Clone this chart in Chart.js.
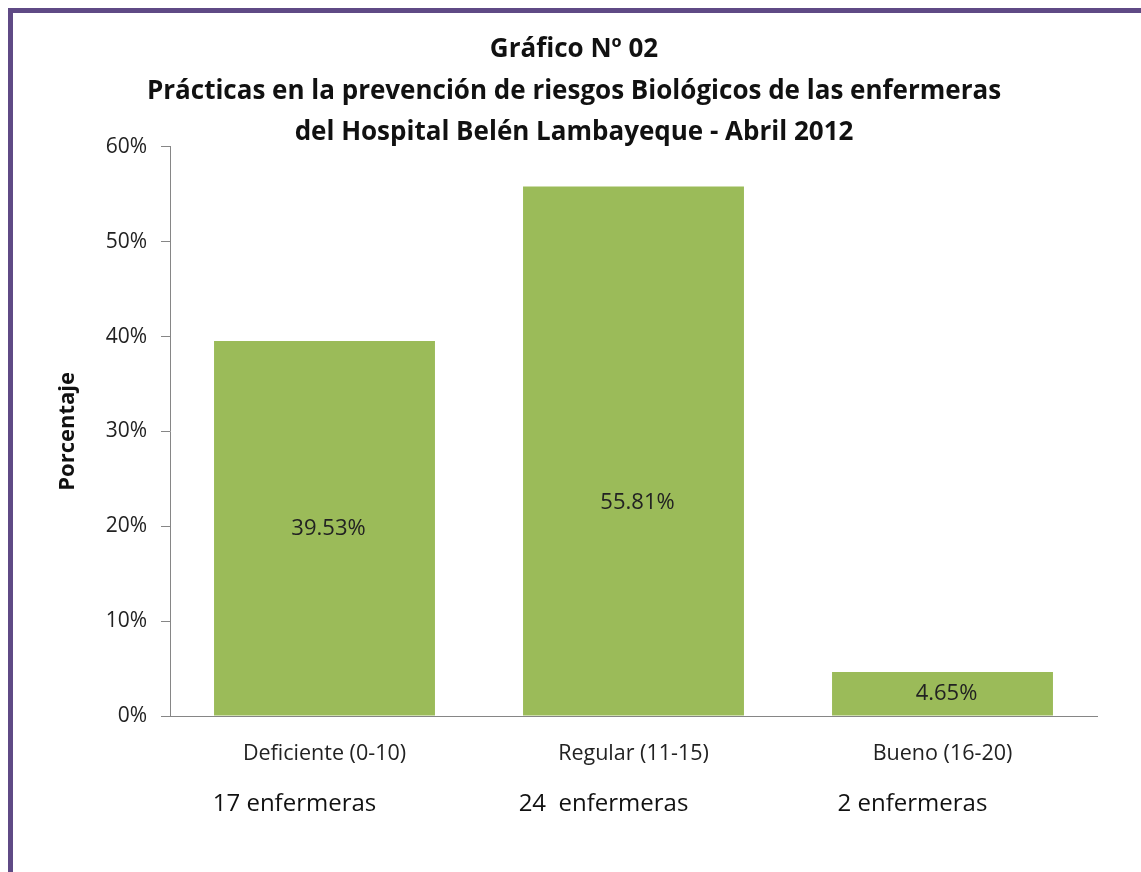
<!DOCTYPE html>
<html>
<head>
<meta charset="utf-8">
<script src="https://cdn.jsdelivr.net/npm/chart.js@4.4.1/dist/chart.umd.min.js"></script>
<style>
  html, body { margin: 0; padding: 0; background: #fff; overflow: hidden; }
  #marco {
    position: absolute; left: 8px; top: 8px; width: 1300px; height: 1000px;
    border-left: 5px solid #5f4a85; border-top: 5px solid #5f4a85;
  }
  #wrap { position: absolute; left: 0; top: 0; width: 1141px; height: 872px; }
</style>
</head>
<body>
<div id="marco"></div>
<div id="wrap"><canvas id="grafico"></canvas></div>
<script>
// Datos del gráfico
const categorias = ['Deficiente (0-10)', 'Regular (11-15)', 'Bueno (16-20)'];
const porcentajes = [39.53, 55.81, 4.65];
const enfermeras = ['17 enfermeras', '24  enfermeras', '2 enfermeras'];
const ticksY = [0, 10, 20, 30, 40, 50, 60];

const fuente = '"Open Sans", Lato, sans-serif';

// Etiquetas de porcentaje dentro de cada barra
const etiquetasBarras = {
    id: 'etiquetasBarras',
    afterDatasetsDraw(chart) {
        const ctx = chart.ctx;
        const y = chart.scales.y;
        const meta = chart.getDatasetMeta(0);
        ctx.save();
        ctx.font = '22px ' + fuente;
        ctx.fillStyle = '#222';
        ctx.textAlign = 'center';
        ctx.textBaseline = 'middle';
        meta.data.forEach((bar, i) => {
            const v = porcentajes[i];
            ctx.fillText(v.toFixed(2) + '%', bar.x + 4, y.getPixelForValue(Math.min(v / 2, 22.5)));
        });
        ctx.restore();
    }
};

// Fila con el número de enfermeras debajo de cada categoría
const filaEnfermeras = {
    id: 'filaEnfermeras',
    afterDraw(chart) {
        const ctx = chart.ctx;
        const x = chart.scales.x;
        ctx.save();
        ctx.font = '24px ' + fuente;
        ctx.fillStyle = '#111';
        ctx.textAlign = 'center';
        ctx.textBaseline = 'middle';
        enfermeras.forEach((t, i) => {
            ctx.fillText(t, x.getPixelForValue(i) - 30, chart.chartArea.bottom + 88);
        });
        ctx.restore();
    }
};

new Chart(document.getElementById('grafico'), {
    type: 'bar',
    data: {
        labels: categorias,
        datasets: [{
            data: porcentajes,
            backgroundColor: '#9bbb59',
            borderWidth: 0,
            categoryPercentage: 1,
            barPercentage: 0.715
        }]
    },
    options: {
        responsive: true,
        maintainAspectRatio: false,
        animation: false,
        layout: { padding: { left: 51, right: 44, top: 22, bottom: 0 } },
        plugins: {
            legend: { display: false },
            tooltip: { enabled: false },
            title: {
                display: true,
                text: ['Gráfico Nº 02',
                       'Prácticas en la prevención de riesgos Biológicos de las enfermeras',
                       'del Hospital Belén Lambayeque - Abril 2012'],
                color: '#111',
                font: { family: fuente, size: 26, weight: 'bold', lineHeight: 1.6 },
                padding: { top: 7, bottom: -7 }
            }
        },
        scales: {
            y: {
                min: 0,
                max: 60,
                afterBuildTicks: s => { s.ticks = ticksY.map(v => ({ value: v })); },
                afterFit: s => { s.width = 119; },
                ticks: {
                    callback: v => v + '%',
                    color: '#222',
                    padding: 14,
                    font: { family: fuente, size: 21 }
                },
                grid: { drawOnChartArea: false, drawTicks: true, tickLength: 9, color: '#868686' },
                border: { color: '#868686' },
                title: {
                    display: true,
                    text: 'Porcentaje',
                    color: '#111',
                    font: { family: fuente, size: 22, weight: 'bold' }
                }
            },
            x: {
                afterFit: s => { s.height = 156; },
                ticks: {
                    color: '#222',
                    padding: 17,
                    font: { family: fuente, size: 21.5 }
                },
                grid: { display: false },
                border: { color: '#868686' }
            }
        }
    },
    plugins: [etiquetasBarras, filaEnfermeras]
});
</script>
</body>
</html>
